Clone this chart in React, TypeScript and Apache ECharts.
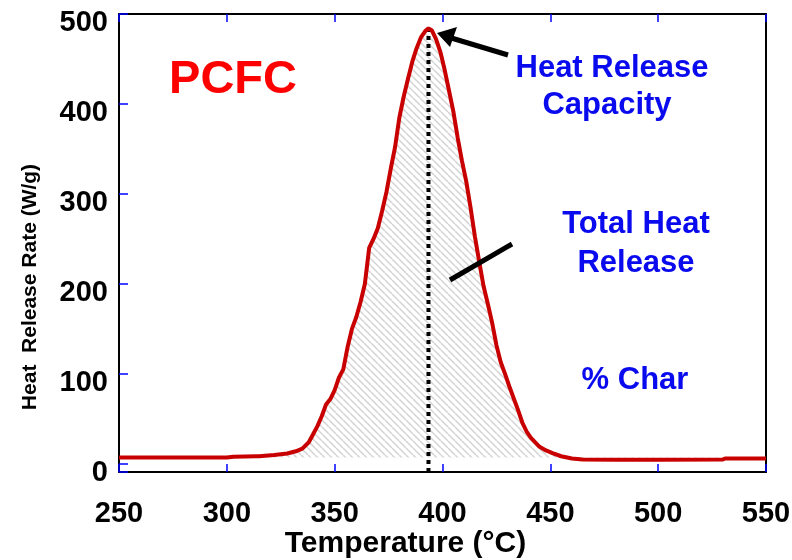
import React, { useEffect, useRef } from "react";
import * as echarts from "echarts";

// Temperature (°C)
const temperature = [
  250, 300, 303, 315, 322, 328, 332, 335, 338, 340, 342, 344, 346, 348, 350, 352, 354, 356, 358, 360,
  362, 364, 366, 368, 370, 372, 374, 376, 378, 380, 382, 384, 386, 388, 390, 392, 393.5, 395, 397, 399,
  401, 403, 405, 407, 409, 411, 413, 415, 417, 419, 421, 423, 425, 427, 429, 431, 433, 435, 437, 439,
  441, 443, 445, 448, 451, 455, 460, 465, 480, 500, 530, 531, 550,
];
// Heat release rate (W/g)
const heatReleaseRate = [
  7, 7, 8, 8.5, 10, 11.5, 14, 17, 24, 33, 42, 53, 66, 72, 82, 96, 105, 130, 150, 163,
  180, 200, 240, 250, 262, 281, 302, 328, 352, 385, 408, 428, 447, 462, 474, 481, 484, 482, 472, 458,
  438, 415, 392, 363, 337, 314, 285, 253, 225, 198, 178, 157, 132, 113, 100, 86, 73, 60, 46, 36,
  29, 24, 19, 15, 12, 8.5, 6, 5, 4.7, 4.7, 4.8, 6, 6,
];
// Peak heat release (heat release capacity marker)
const peakTemperature = [393.5, 393.5];
const peakLineValues = [-9, 484];
// Axis ticks
const xTickValues = [250, 300, 350, 400, 450, 500, 550];
const yTickValues = [0, 100, 200, 300, 400, 500];
const yAxisMin = -9;
const hatchBaseline = 7;

export default function App() {
  const ref = useRef<HTMLDivElement>(null);
  useEffect(() => {
    const el = ref.current!;
    const chart = echarts.init(el, null, { renderer: "svg" });

    const tile = 7;
    const cv = document.createElement("canvas");
    cv.width = tile;
    cv.height = tile;
    const ctx = cv.getContext("2d")!;
    ctx.strokeStyle = "#d2d2d2";
    ctx.lineWidth = 1.4;
    for (const k of [-tile, 0, tile]) {
      ctx.beginPath();
      ctx.moveTo(k, 0);
      ctx.lineTo(k + tile, tile);
      ctx.stroke();
    }

    const data = temperature.map((t, i) => [t, heatReleaseRate[i]]);
    const peakData = peakTemperature.map((t, i) => [t, peakLineValues[i]]);
    const font = "'Liberation Sans', Arial, sans-serif";
    const blue = "#0a0aee";
    const xMin = xTickValues[0];
    const xMax = xTickValues[xTickValues.length - 1];
    const xInt = xTickValues[1] - xTickValues[0];
    const yMax = yTickValues[yTickValues.length - 1];
    const annot = (x: number, y: number, text: string, size: number, fill: string) => ({
      type: "text",
      x,
      y,
      z: 100,
      style: { text, fill, fontFamily: font, fontWeight: "bold", fontSize: size, align: "center", verticalAlign: "middle" },
    });

    chart.setOption({
      animation: false,
      grid: { left: 119, right: 26, top: 14, bottom: 88, outerBoundsMode: "none", containLabel: false },
      xAxis: [
        {
          type: "value",
          min: xMin,
          max: xMax,
          interval: xInt,
          position: "bottom",
          axisLine: { show: true, onZero: false, lineStyle: { color: "#000", width: 2 } },
          axisTick: { show: true, inside: true, length: 8, lineStyle: { color: "#0000ff", width: 1.5 } },
          axisLabel: { margin: 25, fontFamily: font, fontWeight: "bold", fontSize: 29, color: "#000" },
          splitLine: { show: false },
          name: "Temperature (°C)",
          nameLocation: "middle",
          nameGap: 69,
          nameMoveOverlap: false,
          nameTextStyle: {
            fontFamily: font,
            fontWeight: "bold",
            fontSize: 30,
            lineHeight: 30,
            verticalAlign: "middle",
            color: "#000",
            padding: [0, 74, 0, 0],
          },
        },
        {
          type: "value",
          min: xMin,
          max: xMax,
          interval: xInt,
          position: "top",
          axisLine: { show: true, onZero: false, lineStyle: { color: "#000", width: 2 } },
          axisTick: { show: true, inside: true, length: 8, lineStyle: { color: "#0000ff", width: 1.5 } },
          axisLabel: { show: false },
          splitLine: { show: false },
        },
      ],
      yAxis: [
        {
          type: "value",
          min: yAxisMin,
          max: yMax,
          position: "left",
          axisLine: { show: true, onZero: false, lineStyle: { color: "#000", width: 2 } },
          axisTick: { show: true, inside: true, length: 9, lineStyle: { color: "#0000ff", width: 1.5 } },
          axisLabel: {
            margin: 11,
            fontFamily: font,
            fontWeight: "bold",
            fontSize: 29,
            color: "#000",
            verticalAlign: "top",
            lineHeight: 14,
            formatter: (v: number) => (yTickValues.includes(v) ? String(v) : ""),
          },
          splitLine: { show: false },
          name: "Heat  Release Rate (W/g)",
          nameLocation: "middle",
          nameGap: 80,
          nameTextStyle: {
            fontFamily: font,
            fontWeight: "bold",
            fontSize: 21,
            color: "#000",
            padding: [0, 88, 0, 0],
          },
        },
        {
          type: "value",
          min: yAxisMin,
          max: yMax,
          position: "right",
          axisLine: { show: true, onZero: false, lineStyle: { color: "#000", width: 2 } },
          axisTick: { show: false },
          axisLabel: { show: false },
          splitLine: { show: false },
        },
      ],
      series: [
        {
          name: "Total Heat Release",
          type: "line",
          data,
          showSymbol: false,
          silent: true,
          lineStyle: { width: 0 },
          areaStyle: {
            color: { image: cv, repeat: "repeat", imageWidth: tile, imageHeight: tile },
            origin: hatchBaseline,
            opacity: 1,
          },
          z: 1,
        },
        {
          name: "Peak",
          type: "line",
          data: peakData,
          showSymbol: false,
          silent: true,
          lineStyle: { color: "#000", width: 4, type: [4, 4] },
          z: 2,
        },
        {
          name: "HRR",
          type: "line",
          data,
          showSymbol: false,
          silent: true,
          lineStyle: { color: "#c80000", width: 4 },
          z: 3,
        },
      ],
      graphic: [
        annot(233, 76, "PCFC", 47, "#ff0000"),
        annot(612, 66, "Heat Release", 31, blue),
        annot(607, 103, "Capacity", 31, blue),
        annot(636, 222, "Total Heat", 31, blue),
        annot(636, 261, "Release", 31, blue),
        annot(635, 378, "% Char", 31, blue),
        {
          type: "line",
          z: 100,
          shape: { x1: 508, y1: 55, x2: 448, y2: 37 },
          style: { stroke: "#000", lineWidth: 5 },
        },
        {
          type: "polygon",
          z: 100,
          shape: { points: [[437, 33], [457, 27], [450, 47]] },
          style: { fill: "#000" },
        },
        {
          type: "line",
          z: 100,
          shape: { x1: 450, y1: 280, x2: 512, y2: 244 },
          style: { stroke: "#000", lineWidth: 5 },
        },
      ],
    });
    return () => chart.dispose();
  }, []);
  return <div ref={ref} style={{ position: "fixed", left: 0, top: 0, width: 792, height: 560 }} />;
}
